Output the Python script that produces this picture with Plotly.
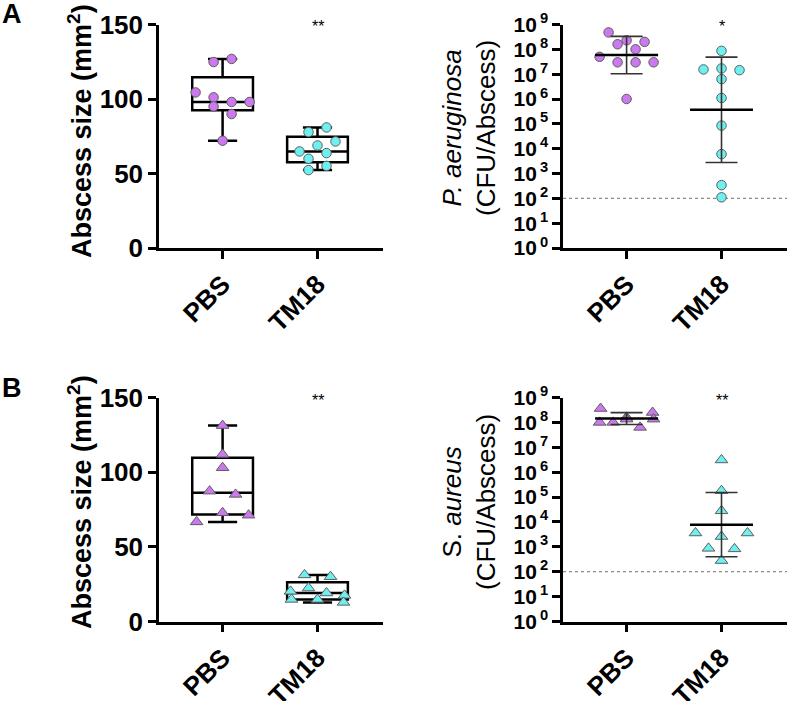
import numpy as np
import plotly.graph_objects as go

groups = ["PBS", "TM18"]

# A: P. aeruginosa abscesses
a_size_pbs = [124.8, 126.9, 104.4, 101.1, 98.0, 98.0, 95.0, 89.9, 72.0]
a_size_tm18 = [77.8, 80.9, 64.8, 68.8, 71.5, 59.9, 63.7, 52.3, 55.1]
a_cfu_pbs = [4.8e8, 2.3e8, 2.0e8, 1.6e8, 1.0e8, 5.0e7, 3.0e7, 3.0e7, 3.0e7, 1.0e6]
a_cfu_tm18 = [8.7e7, 1.55e7, 1.7e7, 1.45e7, 6.3e6, 1.1e6, 8.5e4, 6.0e3, 3.4e2, 1.1e2]

# B: S. aureus abscesses
b_size_pbs = [131.2, 111.9, 103.0, 87.3, 85.1, 66.7, 72.8, 71.2]
b_size_tm18 = [31.2, 30.0, 20.2, 22.4, 19.1, 17.5, 14.8, 14.8, 12.8]
b_cfu_pbs = [3.6e8, 1.6e8, 2.5e8, 1.0e8, 1.0e8, 1.35e8, 6.3e7, 1.35e8]
b_cfu_tm18 = [3.1e6, 1.8e5, 2.8e4, 3.6e3, 2.6e3, 3.6e3, 8.7e2, 8.3e2, 2.8e2]

detection_limit = 100
size_ticks = [0, 50, 100, 150]
cfu_exp = list(range(10))
stars = {"A": ["**", "*"], "B": ["**", "**"]}

W, H = 787, 701
LEFT_X = (159, 383)
RIGHT_X = (563, 787)
TOP_Y = (24.5, 248)
BOT_Y = (397.5, 621.5)
XR = [-0.67, 1.69]
PX_CAT = (LEFT_X[1] - LEFT_X[0]) / (XR[1] - XR[0])

FONT = "Liberation Sans, Arial, sans-serif"
PURPLE = "#cc78ee"
CYAN = "#6ff0f0"
EDGE = "#5e5e5e"


def swarm(values, px_unit, log, spacing, h=10.0, max_half=27.0):
    # rough prism-like scatter: bunch close values into rows, spread each row
    v = np.log10(values) if log else np.asarray(values, float)
    pos = v * px_unit
    order = np.argsort(-pos, kind="stable")
    rows = []
    for i in order:
        if rows and pos[rows[-1][0]] - pos[i] < h:
            rows[-1].append(i)
        else:
            rows.append([i])
    off = np.zeros(len(v))
    for row in rows:
        row.sort()
        k = len(row)
        if k > 1:
            step = min(spacing, 2 * max_half / (k - 1))
            for j, i in enumerate(row):
                off[i] = (j - (k - 1) / 2) * step
    return off / PX_CAT


def ax_common():
    return dict(showline=True, linecolor="black", linewidth=2.5, ticks="outside",
                ticklen=8, tickwidth=2.5, tickcolor="black", showgrid=False,
                zeroline=False, automargin=False)


def dom_x(px):
    return [px[0] / W, px[1] / W]


def dom_y(px):
    return [1 - px[1] / H, 1 - px[0] / H]


fig = go.Figure()


def size_panel(n, data, symbol, msize, spacing, yrow):
    xa, ya = "x%d" % n if n > 1 else "x", "y%d" % n if n > 1 else "y"
    px_unit = (yrow[1] - yrow[0]) / 150
    for i, (vals, col) in enumerate(zip(data, [PURPLE, CYAN])):
        q1, med, q3 = np.percentile(vals, [25, 50, 75], method="weibull")
        fig.add_trace(go.Box(x=[i], q1=[q1], median=[med], q3=[q3],
                             lowerfence=[min(vals)], upperfence=[max(vals)],
                             width=0.64, whiskerwidth=0.48, fillcolor="white",
                             line=dict(color="black", width=2.5), boxpoints=False,
                             showlegend=False, xaxis=xa, yaxis=ya))
        off = swarm(vals, px_unit, False, spacing)
        fig.add_trace(go.Scatter(x=i + off, y=vals, mode="markers",
                                 marker=dict(symbol=symbol, size=msize, color=col,
                                             line=dict(color=EDGE, width=1)),
                                 showlegend=False, cliponaxis=False,
                                 xaxis=xa, yaxis=ya))


def cfu_panel(n, data, symbol, msize, spacing, yrow):
    xa, ya = "x%d" % n, "y%d" % n
    px_unit = (yrow[1] - yrow[0]) / 9
    fig.add_trace(go.Scatter(x=XR, y=[detection_limit] * 2, mode="lines",
                             line=dict(color="#8a8a8a", width=1.2, dash="dot"),
                             showlegend=False, xaxis=xa, yaxis=ya))
    for i, (vals, col) in enumerate(zip(data, [PURPLE, CYAN])):
        off = swarm(vals, px_unit, True, spacing)
        fig.add_trace(go.Scatter(x=i + off, y=vals, mode="markers",
                                 marker=dict(symbol=symbol, size=msize, color=col,
                                             line=dict(color=EDGE, width=1)),
                                 showlegend=False, cliponaxis=False,
                                 xaxis=xa, yaxis=ya))
    for i, vals in enumerate(data):
        lv = np.log10(vals)
        m, s = lv.mean(), lv.std(ddof=1)
        fig.add_trace(go.Scatter(
            x=[i], y=[10 ** m], mode="markers",
            marker=dict(symbol="line-ew", size=45, color="black",
                        line=dict(color="black", width=2.5)),
            error_y=dict(type="data", symmetric=False,
                         array=[10 ** (m + s) - 10 ** m],
                         arrayminus=[10 ** m - 10 ** (m - s)],
                         color="#333333", thickness=1.6, width=16),
            showlegend=False, cliponaxis=False, xaxis=xa, yaxis=ya))


size_panel(1, [a_size_pbs, a_size_tm18], "circle", 9.5, 18, TOP_Y)
cfu_panel(2, [a_cfu_pbs, a_cfu_tm18], "circle", 9.5, 18, TOP_Y)
size_panel(3, [b_size_pbs, b_size_tm18], "triangle-up", 11, 26, BOT_Y)
cfu_panel(4, [b_cfu_pbs, b_cfu_tm18], "triangle-up", 11, 26, BOT_Y)

tick_big = dict(family=FONT, size=26, color="black", weight="bold")
tick_exp = dict(family=FONT, size=21, color="black", weight="bold")

layout = dict(width=W, height=H, margin=dict(l=0, r=0, t=0, b=0),
              plot_bgcolor="white", paper_bgcolor="white",
              font=dict(family=FONT, color="black"))
for n, xpx, ypx in [(1, LEFT_X, TOP_Y), (2, RIGHT_X, TOP_Y),
                    (3, LEFT_X, BOT_Y), (4, RIGHT_X, BOT_Y)]:
    sx = "" if n == 1 else str(n)
    xa = ax_common()
    xa.update(domain=dom_x(xpx), range=XR, tickvals=[0, 1], ticktext=groups,
              tickangle=-45, tickfont=tick_big, anchor="y" + sx)
    ya = ax_common()
    ya.update(domain=dom_y(ypx), anchor="x" + sx)
    if n % 2 == 1:
        ya.update(range=[0, 150], tickvals=size_ticks, tickfont=tick_big)
    else:
        ya.update(type="log", range=[0, 9], tickvals=[10 ** k for k in cfu_exp],
                  ticktext=["10<sup>\u2009%d</sup>" % k for k in cfu_exp],
                  tickfont=tick_exp)
    layout["xaxis" + sx] = xa
    layout["yaxis" + sx] = ya
fig.update_layout(**layout)

ann = []
# y axis titles
bold_t = dict(family=FONT, size=27, color="black", weight="bold")
reg_t = dict(family=FONT, size=26, color="black")
for ypx, letter, xt, ty in [(131, "A", "<i>P. aeruginosa</i><br>(CFU/Abscess)", 128),
                            (502, "B", "S. <i>aureus</i><br>(CFU/Abscess)", 502)]:
    ann.append(dict(text="Abscess size (mm<sup>2</sup>)", x=80 / W, y=1 - ypx / H,
                    xref="paper", yref="paper", textangle=-90, showarrow=False,
                    xanchor="center", yanchor="middle", font=bold_t))
    ann.append(dict(text=xt, x=469 / W, y=1 - ty / H, xref="paper", yref="paper",
                    textangle=-90, showarrow=False, xanchor="center",
                    yanchor="middle", font=reg_t))
    ann.append(dict(text=letter, x=12 / W, y=1 - (14 if letter == "A" else 388) / H,
                    xref="paper", yref="paper", showarrow=False, xanchor="center",
                    yanchor="middle", font=bold_t))
# significance marks above TM18
for row, ystar, ns in [("A", 27, (1, 2)), ("B", 400, (3, 4))]:
    for s, n in zip(stars[row], ns):
        ann.append(dict(text=s, x=1, xref="x" if n == 1 else "x%d" % n,
                        y=1 - ystar / H, yref="paper", showarrow=False,
                        xanchor="center", yanchor="middle",
                        font=dict(family=FONT, size=16, color="black")))
fig.update_layout(annotations=ann)

fig.write_html("out.html", config={"displayModeBar": False},
               post_script="document.body.style.margin='0px';")
